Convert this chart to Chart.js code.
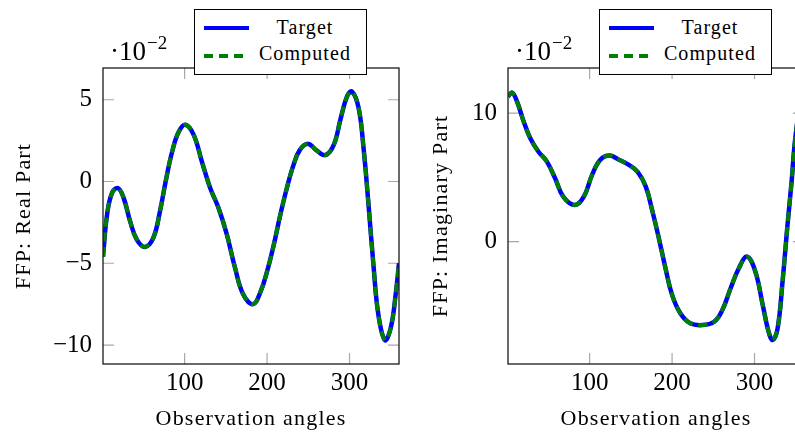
<!DOCTYPE html>
<html>
<head>
<meta charset="utf-8">
<script src="https://cdn.jsdelivr.net/npm/chart.js@4.4.0/dist/chart.umd.min.js"></script>
<style>
  html, body { margin: 0; padding: 0; background: #fff; }
  body { width: 795px; height: 434px; overflow: hidden; position: relative; }
  .panel { position: absolute; top: 0; width: 410px; height: 434px; }
  .panel canvas { position: absolute; left: 0; top: 0; }
  .legend {
    position: absolute; left: 194px; top: 9px; width: 173px; height: 66px;
    box-sizing: border-box; border: 1px solid #000; background: #fff;
    font-family: "Liberation Serif", serif; font-size: 20px; letter-spacing: 1.1px; color: #000;
  }
  .legend .sample { position: absolute; left: 9px; width: 45px; height: 4px; }
  .legend .label { position: absolute; left: 63px; width: 94px; text-align: center; line-height: 22px; white-space: nowrap; }
</style>
</head>
<body>
<div class="panel" style="left:0">
  <canvas id="real-chart" width="410" height="434"></canvas>
  <div class="legend" id="real-legend"></div>
</div>
<div class="panel" style="left:405px">
  <canvas id="imag-chart" width="410" height="434"></canvas>
  <div class="legend" id="imag-legend"></div>
</div>
<script>
// shared x axis (observation angle, degrees)
const xMin = 1;
const xMax = 360;
const xTicks = [100, 200, 300];
const exponentLabel = '\u22122';   // values are in units of 10^-2

// left panel: real part
const realAngles = [1, 6, 12, 19, 26, 34, 42, 52, 62, 70, 77, 85, 93, 101, 111, 121, 131, 141, 151, 161,
  171, 183, 192, 200, 208, 216, 224, 232, 240, 250, 260, 271, 281, 289, 297, 303, 311, 317, 323, 329,
  335, 343, 350, 356, 360];
const realTarget = [-4.6, -2.0, -0.7, -0.4, -1.0, -2.45, -3.55, -4.0, -3.45, -1.85, 0.0, 1.85, 3.05, 3.47, 2.85, 1.2, -0.4, -1.6, -3.2, -5.25,
  -6.9, -7.5, -6.75, -5.5, -3.9, -2.05, -0.4, 1.0, 1.95, 2.3, 1.9, 1.62, 2.25, 3.8, 5.2, 5.5, 4.5, 2.05, -1.4, -5.1,
  -8.15, -9.7, -8.95, -6.9, -5.0];
const realComputed = [-4.6, -2.0, -0.7, -0.4, -1.0, -2.45, -3.55, -4.0, -3.45, -1.85, 0.0, 1.85, 3.05, 3.47, 2.85, 1.2, -0.4, -1.6, -3.2, -5.25,
  -6.9, -7.5, -6.75, -5.5, -3.9, -2.05, -0.4, 1.0, 1.95, 2.3, 1.9, 1.62, 2.25, 3.8, 5.2, 5.5, 4.5, 2.05, -1.4, -5.1,
  -8.15, -9.7, -8.95, -6.9, -5.0];
const realYTicks = [-10, -5, 0, 5];
const realYMin = -11.16;
const realYMax = 6.94;

// right panel: imaginary part
const imagAngles = [1, 6, 12, 20, 28, 38, 48, 58, 68, 82, 93, 103, 113, 124, 135, 147, 158, 168, 176, 184,
  192, 200, 210, 222, 237, 251, 261, 271, 281, 291, 301, 310, 317, 322, 328, 334, 340, 345, 349, 355, 360];
const imagTarget = [11.3, 11.6, 10.9, 9.35, 8.05, 7.0, 6.25, 4.95, 3.5, 2.85, 3.5, 5.2, 6.37, 6.7, 6.4, 6.0, 5.45, 4.3, 2.4, 0.25,
  -2.07, -4.15, -5.58, -6.36, -6.5, -6.24, -5.32, -3.63, -2.07, -1.17, -2.34, -4.95, -7.0, -7.66, -6.75, -3.1, 1.3, 4.7, 7.8, 10.5, 11.3];
const imagComputed = [11.3, 11.6, 10.9, 9.35, 8.05, 7.0, 6.25, 4.95, 3.5, 2.85, 3.5, 5.2, 6.37, 6.7, 6.4, 6.0, 5.45, 4.3, 2.4, 0.25,
  -2.07, -4.15, -5.58, -6.36, -6.5, -6.24, -5.32, -3.63, -2.07, -1.17, -2.34, -4.95, -7.0, -7.66, -6.75, -3.1, 1.3, 4.7, 7.8, 10.5, 11.3];
const imagYTicks = [0, 10];
const imagYMin = -9.53;
const imagYMax = 13.52;

const serif = "'Liberation Serif', 'Times New Roman', serif";
const tickFont = { family: serif, size: 25, lineHeight: 1.2 };
const titleFont = { family: serif, size: 22, lineHeight: 1.2 };

function toPoints(xs, ys) {
    return xs.map((x, i) => ({ x: x, y: ys[i] }));
}

function minusSign(value) {
    return String(value).replace('-', '\u2212');
}

// pgfplots-like frame: box, inward ticks on all sides, exponent label
const framePlugin = {
    id: 'frame',
    beforeDraw(chart) {
        chart.ctx.letterSpacing = '1.2px';   // axis titles only
    },
    beforeDatasetsDraw(chart) {
        const ctx = chart.ctx;
        ctx.letterSpacing = '0px';
        const { left, right, top, bottom } = chart.chartArea;
        const len = 11;
        ctx.save();
        ctx.strokeStyle = '#a8a8a8';
        ctx.lineWidth = 1.2;
        ctx.beginPath();
        chart.scales.x.ticks.forEach(t => {
            const px = chart.scales.x.getPixelForValue(t.value);
            ctx.moveTo(px, bottom); ctx.lineTo(px, bottom - len);
            ctx.moveTo(px, top); ctx.lineTo(px, top + len);
        });
        chart.scales.y.ticks.forEach(t => {
            const py = chart.scales.y.getPixelForValue(t.value);
            ctx.moveTo(left, py); ctx.lineTo(left + len, py);
            ctx.moveTo(right, py); ctx.lineTo(right - len, py);
        });
        ctx.stroke();
        ctx.restore();
    },
    afterDatasetsDraw(chart) {
        const ctx = chart.ctx;
        const { left, right, top, bottom } = chart.chartArea;
        ctx.save();
        ctx.strokeStyle = '#1a1a1a';
        ctx.lineWidth = 1.3;
        ctx.strokeRect(left, top, right - left, bottom - top);
        ctx.restore();
    },
    afterDraw(chart) {
        const ctx = chart.ctx;
        const { left, top } = chart.chartArea;
        ctx.save();
        ctx.letterSpacing = '0px';
        ctx.fillStyle = '#000';
        ctx.textAlign = 'left';
        ctx.textBaseline = 'alphabetic';
        ctx.font = "27px " + serif;
        const base = '\u00b710';
        ctx.fillText(base, left + 7, top - 8);
        const w = ctx.measureText(base).width;
        ctx.font = "19px " + serif;
        ctx.fillText(exponentLabel, left + 8 + w, top - 19);
        ctx.restore();
    }
};

function renderLegend(chart, el) {
    el.innerHTML = '';
    chart.data.datasets.forEach((ds, i) => {
        const sample = document.createElement('span');
        sample.className = 'sample';
        sample.style.top = (16 + i * 28) + 'px';
        if (ds.borderDash && ds.borderDash.length) {
            const on = ds.borderDash[0], off = ds.borderDash[1];
            sample.style.background = `repeating-linear-gradient(90deg, ${ds.borderColor} 0 ${on}px, transparent ${on}px ${on + off}px)`;
        } else {
            sample.style.background = ds.borderColor;
        }
        el.appendChild(sample);

        const label = document.createElement('span');
        label.className = 'label';
        label.style.top = (5.5 + i * 26.7) + 'px';
        label.textContent = ds.label;
        el.appendChild(label);
    });
}

function renderPanel(canvasId, legendId, angles, target, computed, yTicks, yMin, yMax, yTitle, yTitlePad) {
    const ctx = document.getElementById(canvasId).getContext('2d');

    const chart = new Chart(ctx, {
        type: 'line',
        data: {
            datasets: [
                {
                    label: 'Target',
                    data: toPoints(angles, target),
                    borderColor: '#0000ff',
                    borderWidth: 4.5,
                    pointRadius: 0,
                    tension: 0.4,
                    fill: false,
                    order: 2
                },
                {
                    label: 'Computed',
                    data: toPoints(angles, computed),
                    borderColor: '#008000',
                    borderWidth: 4,
                    borderDash: [9.5, 5.5],
                    pointRadius: 0,
                    tension: 0.4,
                    fill: false,
                    order: 1
                }
            ]
        },
        options: {
            responsive: false,
            animation: false,
            layout: { padding: { top: 68, right: 11, bottom: 0, left: 0 } },
            plugins: {
                legend: { display: false },
                tooltip: { enabled: false }
            },
            scales: {
                x: {
                    type: 'linear',
                    min: xMin,
                    max: xMax,
                    afterBuildTicks: scale => { scale.ticks = xTicks.map(v => ({ value: v })); },
                    afterFit: scale => {
                        scale.height = 70;
                        scale.paddingLeft = 0;
                        scale.paddingRight = 0;
                    },
                    grid: { display: false, drawTicks: false },
                    border: { display: false },
                    ticks: {
                        z: 1,
                        padding: 4,
                        color: '#000',
                        font: tickFont,
                        maxRotation: 0,
                        callback: value => minusSign(value)
                    },
                    title: {
                        display: true,
                        text: 'Observation angles',
                        color: '#000',
                        font: titleFont,
                        padding: { top: 0, bottom: 2 }
                    }
                },
                y: {
                    type: 'linear',
                    min: yMin,
                    max: yMax,
                    afterBuildTicks: scale => { scale.ticks = yTicks.map(v => ({ value: v })); },
                    afterFit: scale => {
                        scale.width = 103;
                        scale.paddingTop = 0;
                        scale.paddingBottom = 0;
                    },
                    grid: { display: false, drawTicks: false },
                    border: { display: false },
                    ticks: {
                        z: 1,
                        padding: 11,
                        color: '#000',
                        font: tickFont,
                        callback: value => minusSign(value)
                    },
                    title: {
                        display: true,
                        text: yTitle,
                        color: '#000',
                        font: titleFont,
                        padding: { top: yTitlePad, bottom: 0 }
                    }
                }
            }
        },
        plugins: [framePlugin]
    });

    renderLegend(chart, document.getElementById(legendId));
    return chart;
}

renderPanel('real-chart', 'real-legend', realAngles, realTarget, realComputed,
    realYTicks, realYMin, realYMax, 'FFP: Real Part', 11);
renderPanel('imag-chart', 'imag-legend', imagAngles, imagTarget, imagComputed,
    imagYTicks, imagYMin, imagYMax, 'FFP: Imaginary Part', 23.5);
</script>
</body>
</html>
